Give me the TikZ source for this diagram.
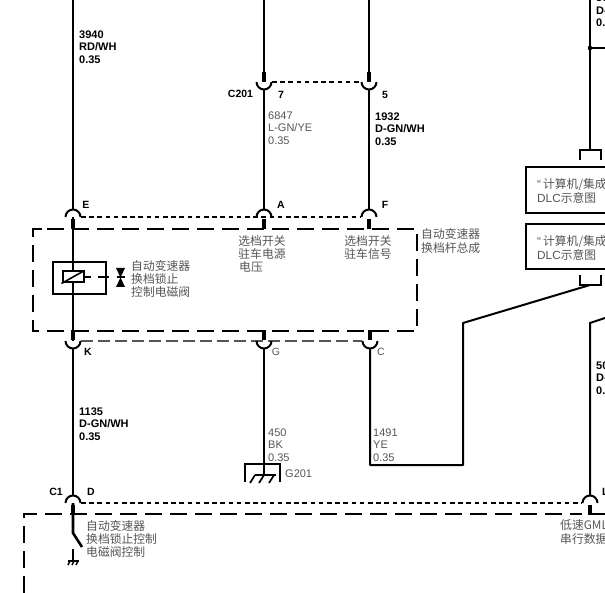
\documentclass[tikz,border=0pt]{standalone}
\usepackage{fontspec}
\setmainfont{Liberation Sans}
\newfontfamily\cjk{Noto Sans CJK SC}
\usetikzlibrary{positioning}
\definecolor{labelgray}{RGB}{85,85,85}
\tikzset{
x=1pt, y=-1pt, % reference pixels, y runs down
wire/.style={line width=2.6pt, black}, % every harness wire
thinwire/.style={line width=2pt, black},
pin/.style={line width=4.5pt, black}, % thick stub under a connector
arcline/.style={line width=2pt, black}, % connector arc
linkdash/.style={line width=2pt, black, dash pattern=on 4.5pt off 3.7pt}, % connector row, black
linkgray/.style={line width=1.7pt, labelgray, dash pattern=on 11.5pt off 5.5pt},
boxdash/.style={line width=2.2pt, black, dash pattern=on 17pt off 8pt}, % module outline
wirelabel/.style={anchor=west, align=left, inner sep=0pt, font=\fontsize{11}{12.3}\selectfont\bfseries},
graylabel/.style={wirelabel, font=\fontsize{11}{12.3}\selectfont, text=labelgray},
pinlabel/.style={inner sep=0pt, font=\fontsize{10.5}{12}\selectfont\bfseries},
cjklabel/.style={anchor=west, align=left, inner sep=0pt, text=labelgray, font=\fontsize{11.8}{13.2}\selectfont\cjk},
}
\begin{document}
\begin{tikzpicture}
      \useasboundingbox (0,0) rectangle (605,593);
      \clip (0,0) rectangle (605,593);

      % connector positions
      \coordinate (E) at (73,217);
      \coordinate (A) at (264,217);
      \coordinate (F) at (369,217);
      \coordinate (K) at (73,341);
      \coordinate (G) at (264,341);
      \coordinate (C) at (370,341);
      \coordinate (P7) at (264,82);
      \coordinate (P5) at (369,82);
      \coordinate (D) at (73,503);
      \coordinate (L) at (590,503);

      % wires
      \coordinate (top1) at (73,0);
      \coordinate (top7) at (264,0);
      \coordinate (top5) at (369,0);
      \coordinate (top9) at (590,0);
      \coordinate (tap) at (590,48);
      \coordinate (tapend) at (605,48);
      \coordinate (brk1) at (590,150);
      \coordinate (brk2) at (590,285);
      \coordinate (bendA) at (463,323);
      \coordinate (bendB) at (463,465);
      \coordinate (bendC) at (370,465);
      \coordinate (gndtop) at (264,475);
      \coordinate (rise) at (590,323);
      \coordinate (riseend) at (605,318);
      \coordinate (sw1) at (73,533);
      \coordinate (sw2) at (82,547);

      \draw[wire] (top1) -- ([yshift=7pt]E);
      \draw[wire] (top7) -- (P7);
      \draw[wire] (top5) -- (P5);
      \draw[thinwire] ([yshift=-8pt]P7) -- ([yshift=7pt]A);
      \draw[thinwire] ([yshift=-8pt]P5) -- ([yshift=7pt]F);
      \draw[wire] (top9) -- (brk1);
      \draw[thinwire] (tap) -- (tapend);
      \fill (tap) circle (2.3);
      \draw[wire] (E) -- (K);
      \draw[wire] ([yshift=-8pt]K) -- ([yshift=7pt]D);
      \draw[thinwire] ([yshift=-8pt]G) -- (gndtop);
      \draw[thinwire, line join=round] ([yshift=-8pt]C) -- (bendC) -- (bendB) -- (bendA) -- (brk2);
      \draw[thinwire] (riseend) -- (rise) -- ([yshift=7pt]L);
      \draw[wire] (D) -- (sw1) -- (sw2);

      % connector rows
      \draw[linkdash] (81,217) -- (361,217);
      \draw[linkdash] (272,82) -- (361,82);
      \draw[linkgray] (81,341) -- (362,341);
      \draw[linkdash] (81,503) -- (582,503);

      % arcs and pins
      \foreach \p in {E,A,F,D,L}{
        \draw[arcline] ([xshift=-7.5pt]\p) arc (180:360:7.5);
        \draw[pin] ([yshift=-2pt]\p) -- ([yshift=-12pt]\p);
      }
      \foreach \p in {K,G,C}{
        \draw[arcline] ([xshift=-7.5pt]\p) arc (180:0:7.5);
        \draw[pin] ([yshift=1pt]\p) -- ([yshift=11pt]\p);
      }
      \foreach \p in {P7,P5}{
        \draw[arcline] ([xshift=-7.5pt]\p) arc (180:0:7.5);
        \draw[pin] ([yshift=0pt]\p) -- ([yshift=10pt]\p);
      }

      % module outlines
      \draw[boxdash] (42,229) -- (33,229) -- (33,331) -- (417,331) -- (417,229) -- (33,229);
      \draw[boxdash] (24,593) -- (24,514) -- (582,514);
      \coordinate (pinL) at (590,514);
      \coordinate (lineend) at (605,514);
      \draw[line width=2.2pt] (pinL) -- (lineend);

      % solenoid
      \node[draw, line width=2pt, minimum width=53pt, minimum height=32pt, inner sep=0pt] (valve) at (79.5,278) {};
      \node[draw, line width=2pt, fill=white, minimum width=21pt, minimum height=11pt, inner sep=0pt] (coil) at (73,277) {};
      \draw[line width=1.6pt] (coil.south west) -- (coil.north east);
      \coordinate (tieend) at (125,277);
      \draw[line width=1.7pt, dash pattern=on 6pt off 7pt on 11pt off 8pt on 9pt] (coil.east) -- (tieend);
      \coordinate (bow1) at (116,268);
      \coordinate (bow2) at (125,268);
      \coordinate (bow3) at (116,287);
      \coordinate (bow4) at (125,287);
      \fill (bow1) -- (bow2) -- (bow3) -- (bow4) -- cycle;
      \node[cjklabel] (valvetxt) at (131,279) {自动变速器\\换档锁止\\控制电磁阀};

      % DLC references
      \coordinate (b1a) at (580,160);
      \coordinate (b1b) at (580,150);
      \coordinate (b1c) at (600.5,150);
      \coordinate (b1d) at (600.5,160);
      \draw[line width=2pt] (b1a) -- (b1b) -- (b1c) -- (b1d);
      \coordinate (b2a) at (580,275);
      \coordinate (b2b) at (580,285);
      \coordinate (b2c) at (600.5,285);
      \coordinate (b2d) at (600.5,275);
      \draw[line width=2pt] (b2a) -- (b2b) -- (b2c) -- (b2d);
      \coordinate (d1a) at (640,167);
      \coordinate (d1b) at (526,167);
      \coordinate (d1c) at (526,213);
      \coordinate (d1d) at (640,213);
      \draw[line width=2pt] (d1a) -- (d1b) -- (d1c) -- (d1d);
      \coordinate (d2a) at (640,224);
      \coordinate (d2b) at (526,224);
      \coordinate (d2c) at (526,269);
      \coordinate (d2d) at (640,269);
      \draw[line width=2pt] (d2a) -- (d2b) -- (d2c) -- (d2d);
      \node[cjklabel] (dlc1) at (537,191) {{\rmfamily “}\,计算机/集成\\{\rmfamily DLC}示意图};
      \node[cjklabel] (dlc2) at (537,248) {{\rmfamily “}\,计算机/集成\\{\rmfamily DLC}示意图};

      % ground
      \coordinate (g1) at (245,482);
      \coordinate (g2) at (245,464);
      \coordinate (g3) at (280,464);
      \coordinate (g4) at (280,482);
      \draw[line width=2pt] (g1) -- (g2) -- (g3) -- (g4);
      \coordinate (h1) at (255,475);
      \coordinate (h2) at (276,475);
      \draw[line width=1.7pt] (h1) -- (h2);
      \foreach \hx in {255,264,274}{
        \draw[line width=1.7pt] (\hx,475) -- (\hx-5,483);
      }
      \node[graylabel] (g201) at (285,474) {G201};

      % switch ground
      \coordinate (s1) at (73,549);
      \coordinate (s2) at (73,561);
      \coordinate (s3) at (68,561);
      \coordinate (s4) at (79,561);
      \draw[line width=1.8pt] (s1) -- (s2);
      \draw[line width=1.8pt] (s3) -- (s4);
      \foreach \hx in {70,74,78}{
        \draw[line width=1.4pt] (\hx,561) -- (\hx-2,565);
      }

      % pin names
      \node[pinlabel] (lE) at (86,205) {E};
      \node[pinlabel] (lA) at (281,205) {A};
      \node[pinlabel] (lF) at (385,205) {F};
      \node[pinlabel] (l7) at (281,95) {7};
      \node[pinlabel] (l5) at (385,95) {5};
      \node[pinlabel] (lC201) at (240.5,94) {C201};
      \node[pinlabel] (lK) at (88,352) {K};
      \node[pinlabel, font=\fontsize{10.5}{12}\selectfont, text=labelgray] (lG) at (276,352) {G};
      \node[pinlabel, font=\fontsize{10.5}{12}\selectfont, text=labelgray] (lC) at (381,352) {C};
      \node[pinlabel] (lC1) at (56,492) {C1};
      \node[pinlabel] (lD) at (91,492) {D};
      \node[pinlabel, anchor=west] (lL) at (602,492) {L};

      % wire labels
      \node[wirelabel] (w3940) at (79,47) {3940\\RD/WH\\0.35};
      \node[graylabel] (w6847) at (268,128) {6847\\L-GN/YE\\0.35};
      \node[wirelabel] (w1932) at (375,129) {1932\\D-GN/WH\\0.35};
      \node[wirelabel] (w1135) at (79,424) {1135\\D-GN/WH\\0.35};
      \node[graylabel] (w450) at (268,445) {450\\BK\\0.35};
      \node[graylabel] (w1491) at (373,445) {1491\\YE\\0.35};
      \node[wirelabel] (wtop) at (596,10.5) {50\\D-GN/WH\\0.35};
      \node[wirelabel] (wlow) at (596,378) {50\\D-GN/WH\\0.35};

      % module texts
      \node[cjklabel, align=center, anchor=north] (sel1) at (262,235) {选档开关\\驻车电源};
      \node[cjklabel] (sel1b) at (239,267) {电压};
      \node[cjklabel, align=center, anchor=north] (sel2) at (368,235) {选档开关\\驻车信号};
      \node[cjklabel] (lever) at (421,241) {自动变速器\\换档杆总成};
      \node[cjklabel] (swtxt) at (86,539) {自动变速器\\换档锁止控制\\电磁阀控制};
      \node[cjklabel] (gml) at (560,532) {低速GML\\串行数据};
    \end{tikzpicture}
\end{document}
